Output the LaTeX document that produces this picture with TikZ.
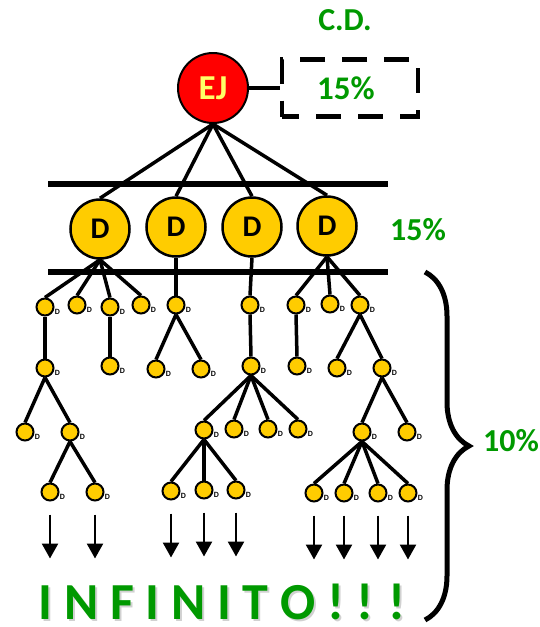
\documentclass[tikz,border=0pt]{standalone}
\usepackage{fontspec}
\setmainfont{Carlito}
\usetikzlibrary{arrows.meta,decorations.pathreplacing}
\definecolor{cdgreen}{RGB}{0,153,0}
\definecolor{dyellow}{RGB}{255,204,0}
\definecolor{ejyellow}{RGB}{255,255,102}
\pgfdeclarelayer{background}
\pgfsetlayers{background,main}
\tikzset{EJ/.style={draw,circle,fill=red,line width=2pt,minimum size=70pt,inner sep=0pt,
        text=ejyellow,font=\fontsize{35}{35}\selectfont\bfseries},
    D/.style={draw,circle,fill=dyellow,line width=2.5pt,minimum size=59pt,inner sep=0pt,
        font=\fontsize{30}{30}\selectfont\bfseries},
    dot/.style={draw,circle,fill=dyellow,line width=2pt,minimum size=17pt,inner sep=0pt,
        label={[inner sep=0pt,label distance=0.5pt,font=\fontsize{8}{8}\selectfont\bfseries]-15:D}},
    cdbox/.style={draw,line width=4.5pt,dash pattern=on 25pt off 17pt,dash phase=8pt,
        minimum width=136pt,minimum height=57pt,text=cdgreen,font=\fontsize{33}{33}\selectfont\bfseries},
    pct/.style={text=cdgreen,font=\fontsize{32}{32}\selectfont\bfseries},
    big/.style={text=cdgreen,inner sep=0pt,anchor=base,font=\fontsize{52}{52}\selectfont\bfseries},
    link/.style={line width=3.5pt},
    bar/.style={line width=6pt},
    arr/.style={line width=2.5pt,-{Triangle[length=15pt,width=16pt]}},
    brc/.style={decorate,decoration={brace,amplitude=44pt},line width=5pt}
}
\begin{document}
\begin{tikzpicture}[x=1pt,y=-1pt]
    \useasboundingbox (0,0) rectangle (539,627);

    % Top: EJ and its C.D. box
    \node[EJ] (ej) at (213,88) {EJ};
    \node[cdbox] (cd) at (350,88) {15\%\hspace*{8pt}};
    \node[pct] (cdlabel) at (345,20) {C.D.};
    \draw[line width=4pt] (ej) -- (cd);

    % Directors
    \node[D] (d1) at (100,229) {D};
    \node[D] (d2) at (176,227) {D};
    \node[D] (d3) at (252,227) {D};
    \node[D] (d4) at (327,226) {D};
    \node[pct] (dpct) at (418,230) {15\%};
    \draw[bar] (48,184) -- (388,184);
    \draw[bar] (48,272) -- (388,272);

    % Network, level by level
    \foreach \n/\x/\y in {p1/45/307,p2/77/305,p3/110/307,p4/141/305,p5/176/305,
        p6/250/305,p7/296/305,p8/330/304,p9/360/305,
        q1/45/368,q2/110/366,q3/156/369,q4/201/369,q5/251/366,q6/297/366,q7/337/368,q8/382/368,
        r1/25/432,r2/70/432,r3/204/430,r4/234/429,r5/268/429,r6/298/429,r7/362/432,r8/407/432,
        s1/50/492,s2/95/492,s3/171/491,s4/204/490,s5/236/490,s6/314/493,s7/344/493,s8/378/493,s9/408/493}
        \node[dot] (\n) at (\x,\y) {};

    \begin{pgfonlayer}{background}
        \foreach \d in {d1,d2,d3,d4}
            \draw[link] (ej.south) -- (\d.north);
        \foreach \a/\b in {d1/p1,d1/p2,d1/p3,d1/p4,d2/p5,d3/p6,d4/p7,d4/p8,d4/p9,
            p1/q1,p3/q2,p5/q3,p5/q4,p6/q5,p7/q6,p9/q7,p9/q8,
            q1/r1,q1/r2,q5/r3,q5/r4,q5/r5,q5/r6,q8/r7,q8/r8,
            r2/s1,r2/s2,r3/s3,r3/s4,r3/s5,r7/s6,r7/s7,r7/s8,r7/s9}
            \draw[link] (\a.south) -- (\b.north);
    \end{pgfonlayer}

    % Arrows down
    \foreach \n in {s1,s2,s3,s4,s5,s6,s7,s8,s9}
        \draw[arr] (\n.south) ++(0,13) -- ++(0,44);

    % INFINITO!!!
    \begin{pgfonlayer}{background}
        \node[big,text=black!18] at (224,621) {I N F I N I T O ! ! !};
    \end{pgfonlayer}
    \node[big] (infinito) at (222,619) {I N F I N I T O ! ! !};

    % Brace
    \draw[brc] (425,272) -- (425,620);
    \node[pct] (rest) at (511,441) {10\%};
\end{tikzpicture}
\end{document}
